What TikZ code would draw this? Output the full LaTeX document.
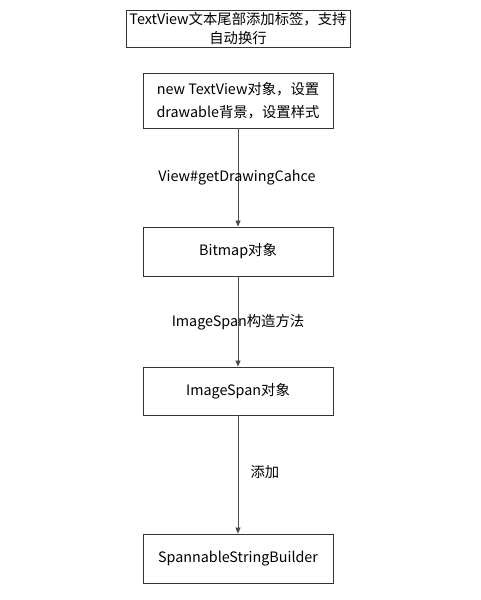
\documentclass[tikz,border=0pt]{standalone}
\usepackage{fontspec}
\setmainfont{Noto Sans CJK SC}
\usepackage{tikz}
\usetikzlibrary {arrows.meta}

\tikzset{
    stepbox/.style={draw=black!80, line width=0.8bp, inner sep=0pt, align=center,
        font=\fontsize{14.4}{20}\selectfont},
    flow/.style={draw=black!70, line width=0.8bp, -{Triangle[length=6bp,width=5bp]}},
    flowlabel/.style={font=\fontsize{14.4}{20}\selectfont},
}

\begin{document}
\begin{tikzpicture}[x=1bp, y=1bp]
    \useasboundingbox [fill=white] (0,0) rectangle (481,600);
    % boxes
    \node [stepbox, minimum width=224bp, minimum height=37bp] (goal) at (238,571.5)
        {TextView文本尾部添加标签，支持\\自动换行};
    \node [stepbox, minimum width=190bp, minimum height=55bp, font=\fontsize{14.4}{23}\selectfont] (textview) at (238,499.5)
        {new TextView对象，设置\\drawable背景，设置样式};
    \node [stepbox, minimum width=190bp, minimum height=49bp] (bitmap) at (238,348.5) {Bitmap对象};
    \node [stepbox, minimum width=190bp, minimum height=48bp] (imagespan) at (238,209) {ImageSpan对象};
    \node [stepbox, minimum width=190bp, minimum height=49bp] (builder) at (238,41.5) {SpannableStringBuilder};
    % connectors
    \draw [flow] (textview.south) -- (bitmap.north);
    \draw [flow] (bitmap.south) -- (imagespan.north);
    \draw [flow] (imagespan.south) -- (builder.north);
    \node [flowlabel] (cache) at (237,422) {View\#getDrawingCahce};
    \node [flowlabel] (construct) at (238,278) {ImageSpan构造方法};
    \node [flowlabel, anchor=west] (add) at (247,128) {添加};
\end{tikzpicture}
\end{document}
